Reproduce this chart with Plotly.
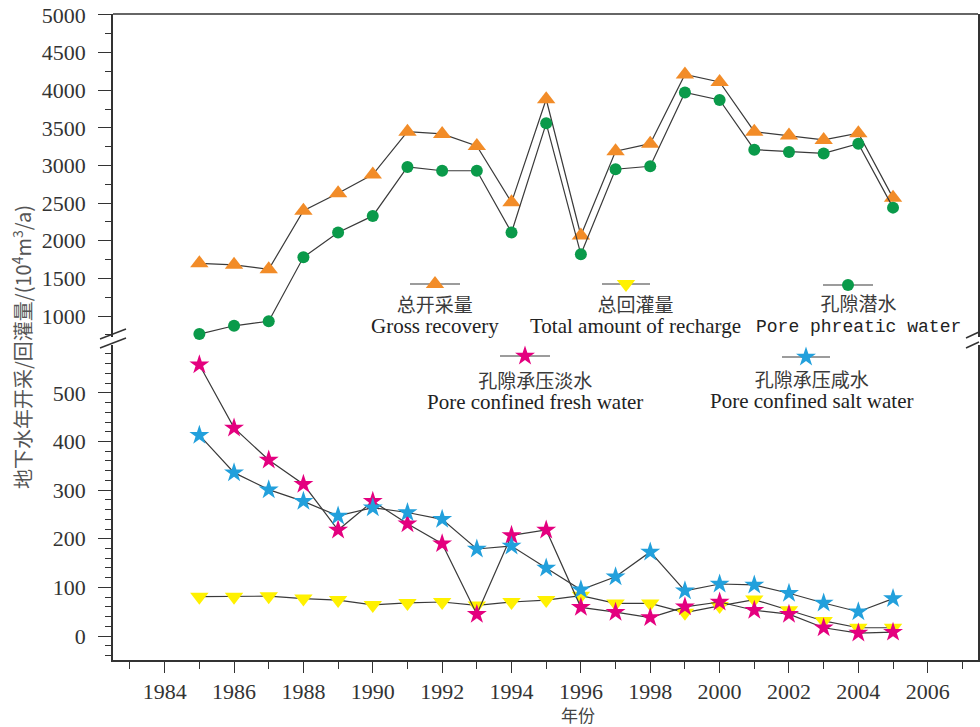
import plotly.graph_objects as go

# ---------------- data ----------------
years = list(range(1985, 2006))

gross_recovery = [1700, 1680, 1620, 2400, 2630, 2880, 3450, 3420, 3260, 2510, 3880,
                  2070, 3190, 3290, 4210, 4110, 3450, 3400, 3340, 3430, 2570]
pore_phreatic = [760, 870, 930, 1780, 2110, 2330, 2980, 2930, 2930, 2110, 3560,
                 1820, 2950, 2990, 3970, 3870, 3210, 3180, 3160, 3290, 2440]
total_recharge = [81, 81, 82, 77, 74, 64, 68, 70, 63, 70, 74,
                  83, 67, 67, 48, 62, 75, 53, 31, 17, 17]
confined_fresh = [558, 428, 362, 312, 218, 277, 231, 190, 45, 207, 218,
                  59, 49, 38, 60, 70, 53, 45, 17, 6, 8]
confined_salt = [413, 336, 301, 277, 247, 264, 254, 240, 179, 185, 140,
                 95, 122, 173, 93, 107, 105, 88, 68, 50, 77]

names_cn = ["总开采量", "总回灌量", "孔隙潜水", "孔隙承压淡水", "孔隙承压咸水"]
names_en = ["Gross recovery", "Total amount of recharge", "Pore phreatic water",
            "Pore confined fresh water", "Pore confined salt water"]

# ---------------- style ----------------
W, H = 980, 727
L, R, T, B = 113, 2, 14, 67
PW, PH = W - L - R, H - T - B
AX = "#333333"
LINE = "#3a3a3a"
ORANGE = "#F28C28"
GREEN = "#0A9A4A"
YELLOW = "#FFF100"
PINK = "#E4007F"
BLUE = "#22A0DC"
SERIF = "Liberation Serif"
CJK = "Noto Sans CJK SC"


def fx(px):
    return (px - L) / PW


def fy(py):
    return (T + PH - py) / PH


fig = go.Figure()


def series(y, axis, color, symbol, size):
    fig.add_trace(go.Scatter(
        x=years, y=y, yaxis=axis, mode="lines+markers",
        line=dict(color=LINE, width=1.2),
        marker=dict(color=color, symbol=symbol, size=size, opacity=1, line=dict(width=0)),
        showlegend=False, cliponaxis=False, hoverinfo="x+y"))


series(gross_recovery, "y2", ORANGE, "triangle-up", 16)
series(pore_phreatic, "y2", GREEN, "circle", 12)
series(total_recharge, "y", YELLOW, "triangle-down", 16)
series(confined_fresh, "y", PINK, "star", 15)
series(confined_salt, "y", BLUE, "star", 15)

# ---------------- legend keys (overlay axes in plot-fraction units) ----------------
keys = [
    (410, 460, 284, ORANGE, "triangle-up", 16),
    (602, 650, 284, YELLOW, "triangle-down", 16),
    (823, 873, 285, GREEN, "circle", 12),
    (500, 550, 356, PINK, "star", 15),
    (782, 830, 357, BLUE, "star", 15),
]
for x0, x1, yy, col, sym, sz in keys:
    xm = (x0 + x1) / 2
    fig.add_trace(go.Scatter(
        x=[fx(x0), fx(x1)], y=[fy(yy)] * 2, xaxis="x3", yaxis="y3",
        mode="lines", line=dict(color=LINE, width=1.2),
        showlegend=False, hoverinfo="skip", cliponaxis=False))
    fig.add_trace(go.Scatter(
        x=[fx(xm)], y=[fy(yy)], xaxis="x3", yaxis="y3",
        mode="markers", marker=dict(color=col, symbol=sym, size=sz, opacity=1,
                                    line=dict(width=0)),
        showlegend=False, hoverinfo="skip", cliponaxis=False))

# ---------------- axes ----------------
tickfont = dict(family=SERIF, size=22, color=AX)
fig.update_layout(
    width=W, height=H,
    margin=dict(l=L, r=R, t=T, b=B, autoexpand=False),
    paper_bgcolor="white", plot_bgcolor="rgba(0,0,0,0)",
    showlegend=False,
    xaxis=dict(range=[1982.51, 2007.45], domain=[0, 1], anchor="y",
               tickmode="linear", tick0=1984, dtick=2, ticks="outside", ticklen=11,
               tickwidth=1.4, tickcolor=AX, showline=True, linecolor=AX, linewidth=1.5,
               showgrid=False, zeroline=False, tickfont=tickfont,
               minor=dict(dtick=1, tick0=1983, ticks="outside", ticklen=7,
                          tickwidth=1.2, tickcolor=AX, showgrid=False)),
    yaxis=dict(range=[-49.3, 599], domain=[0, 0.488], anchor="x",
               tickmode="linear", tick0=0, dtick=100, ticks="outside", ticklen=13,
               tickwidth=1.4, tickcolor=AX, showline=True, linecolor=AX, linewidth=1.5,
               mirror=True, showgrid=False, zeroline=False, tickfont=tickfont,
               ticklabelstandoff=8,
               minor=dict(dtick=20, tick0=0, ticks="outside", ticklen=6,
                          tickwidth=1.2, tickcolor=AX, showgrid=False)),
    yaxis2=dict(range=[721, 5013], domain=[0.5, 1], anchor="x",
                tickmode="linear", tick0=0, dtick=500, ticks="outside", ticklen=13,
                tickwidth=1.4, tickcolor=AX, showline=True, linecolor=AX, linewidth=1.5,
                mirror=True, showgrid=False, zeroline=False, tickfont=tickfont,
                ticklabelstandoff=8,
                minor=dict(dtick=250, tick0=0, ticks="outside", ticklen=6,
                           tickwidth=1.2, tickcolor=AX, showgrid=False)),
    xaxis3=dict(range=[0, 1], domain=[0, 1], anchor="y3", visible=False, fixedrange=True),
    yaxis3=dict(range=[0, 1], domain=[0, 1], anchor="x3", visible=False, fixedrange=True),
)

# ---------------- frame & axis breaks ----------------
shapes = [
    dict(type="line", xref="paper", yref="paper", x0=0, x1=1, y0=1, y1=1,
         line=dict(color=AX, width=1.5)),
]
for (x0, y0, x1, y1) in [(100, 339, 126, 329), (100, 348, 126, 338),
                         (966, 338, 979, 332), (966, 348, 979, 342)]:
    shapes.append(dict(type="line", xref="paper", yref="paper",
                       x0=fx(x0), y0=fy(y0), x1=fx(x1), y1=fy(y1),
                       line=dict(color=AX, width=1.5)))
fig.update_layout(shapes=shapes)

# ---------------- text ----------------
ann = []


def text(s, px, py, family, size, color="#2b2b2b", angle=0):
    ann.append(dict(text=s, x=fx(px), y=fy(py), xref="paper", yref="paper",
                    xanchor="center", yanchor="middle", showarrow=False,
                    textangle=angle, font=dict(family=family, size=size, color=color)))


label_pos = [(435, 314), (635, 314), (858, 313), (535, 390), (812, 389)]
for i in range(5):
    if i == 2:
        en = ('<span style="font-family:Liberation Mono;font-size:18px">'
              + names_en[i] + '</span>')
    else:
        en = '<span style="font-size:21px">' + names_en[i] + '</span>'
    s = ('<span style="font-family:Noto Sans CJK SC;color:#3a3a3a;font-size:19px">'
         + names_cn[i] + '</span><br>' + en)
    text(s, label_pos[i][0], label_pos[i][1], SERIF, 16.5, "#222222")

text("地下水年开采/回灌量/(10<sup>4</sup>m<sup>3</sup>/a)", 22, 347, CJK, 20, "#555555", -90)
text("年份", 578, 714.5, CJK, 17, "#444444")
fig.update_layout(annotations=ann)

fig.write_html("out.html", config={"displayModeBar": False},
               post_script="document.body.style.margin='0';document.body.style.overflow='hidden';")
